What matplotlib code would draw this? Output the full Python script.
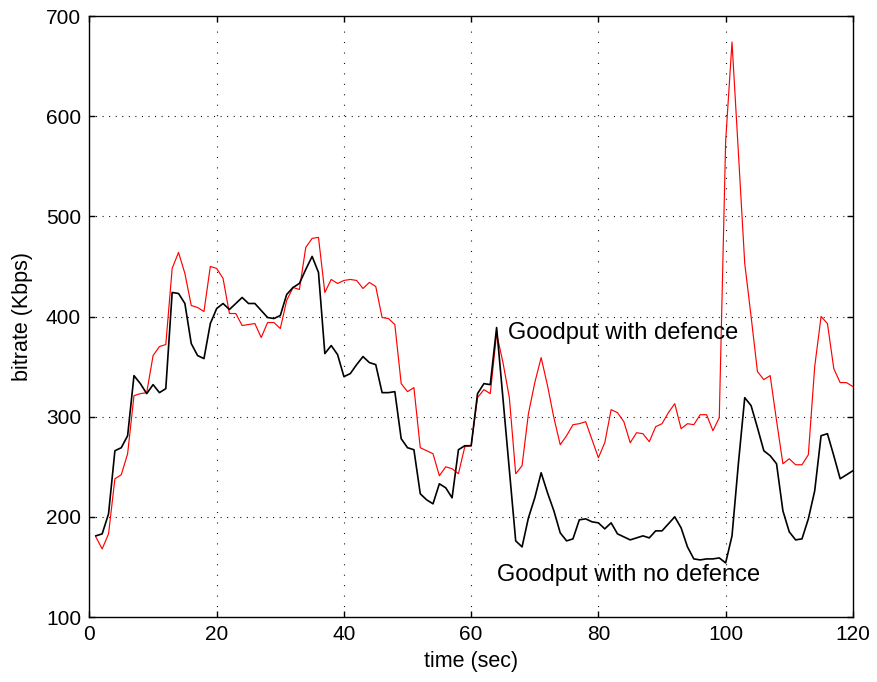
import matplotlib.pyplot as plt

plt.rcParams["font.family"] = ["Liberation Sans", "DejaVu Sans"]

# one sample per second
time_sec = list(range(1, 121))

goodput_no_defence = [
    181, 183, 203, 266, 269, 281, 341, 333, 323, 332,
    324, 328, 424, 423, 413, 373, 361, 358, 393, 408,
    413, 407, 413, 419, 413, 413, 406, 399, 398, 401,
    422, 429, 433, 447, 460, 444, 363, 371, 362, 340,
    343, 352, 360, 354, 352, 324, 324, 325, 278, 269,
    267, 223, 217, 213, 233, 229, 219, 267, 271, 271,
    323, 333, 332, 389, 318, 247, 176, 170, 199, 219,
    244, 224, 206, 184, 176, 178, 197, 198, 195, 194,
    188, 194, 183, 180, 177, 179, 181, 179, 186, 186,
    193, 200, 189, 170, 158, 157, 158, 158, 159, 154,
    181, 253, 319, 311, 289, 266, 261, 253, 206, 185,
    177, 178, 198, 226, 281, 283, 261, 238, 242, 246,
]

goodput_with_defence = [
    180, 168, 183, 238, 242, 263, 321, 323, 324, 361,
    370, 372, 448, 464, 443, 411, 409, 405, 450, 448,
    438, 403, 403, 391, 392, 393, 379, 394, 394, 388,
    416, 429, 427, 469, 478, 479, 424, 437, 433, 436,
    437, 436, 428, 434, 430, 399, 398, 392, 333, 325,
    329, 269, 266, 263, 241, 250, 248, 243, 270, 271,
    319, 327, 323, 383, 354, 319, 243, 251, 303, 334,
    359, 331, 299, 272, 281, 292, 293, 295, 277, 259,
    274, 307, 304, 295, 274, 284, 283, 275, 290, 293,
    304, 313, 288, 293, 292, 302, 302, 286, 299, 575,
    674, 564, 453, 400, 345, 337, 341, 296, 253, 258,
    252, 252, 262, 350, 400, 393, 348, 334, 334, 330,
]

x_ticks = [0, 20, 40, 60, 80, 100, 120]
y_ticks = [100, 200, 300, 400, 500, 600, 700]

fig = plt.figure(figsize=(8.77, 6.82), dpi=100)
ax = fig.add_axes([0.102, 0.0953, 0.8705, 0.8812])

ax.plot(time_sec, goodput_with_defence, color="#ff0000", linewidth=0.85, zorder=3)
ax.plot(time_sec, goodput_no_defence, color="black", linewidth=1.2, zorder=4)

ax.set_xlim(0, 120)
ax.set_ylim(100, 700)
ax.set_xticks(x_ticks)
ax.set_yticks(y_ticks)

# dotted grid, vertical dots a bit sparser than horizontal ones
for x in x_ticks[1:-1]:
    ax.axvline(x, color="black", linewidth=0.8, linestyle=(0, (0.9, 8.5)), zorder=1)
for y in y_ticks[1:-1]:
    ax.axhline(y, color="black", linewidth=0.8, linestyle=(0, (0.9, 5.0)), zorder=1)

ax.tick_params(direction="in", length=4.5, width=1.0, labelsize=15,
               top=True, right=True, pad=6)
for spine in ax.spines.values():
    spine.set_linewidth(1.0)

ax.set_xlabel("time (sec)", fontsize=15.5)
ax.set_ylabel("bitrate (Kbps)", fontsize=15.5)
ax.xaxis.set_label_coords(0.5, -0.056)
ax.yaxis.set_label_coords(-0.074, 0.5)

ax.text(65.75, 378, "Goodput with defence", fontsize=17, va="baseline", zorder=5)
ax.text(64.0, 136, "Goodput with no defence", fontsize=17, va="baseline", zorder=5)

fig.savefig("out.png", dpi=100)
